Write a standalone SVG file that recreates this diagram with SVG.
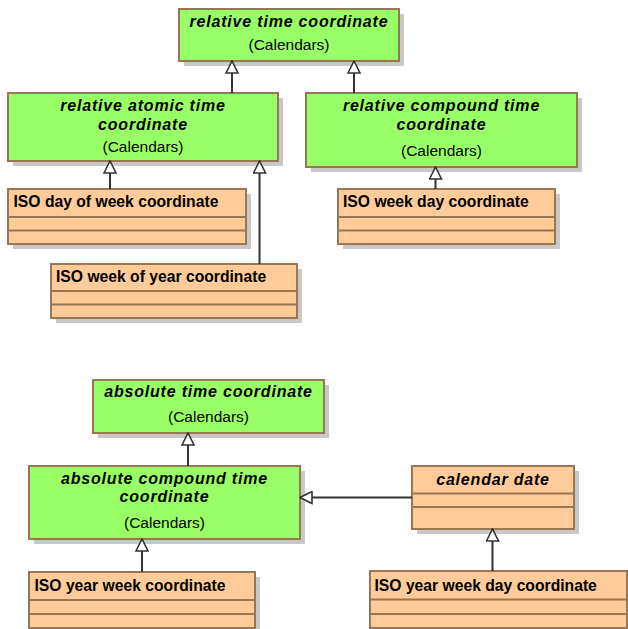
<svg xmlns="http://www.w3.org/2000/svg" width="628" height="629" viewBox="0 0 628 629">
<defs>
<style>
.sh{fill:#c8c8c8}
.g{fill:#99ff66;stroke:#997755;stroke-width:2}
.o{fill:#ffcc99;stroke:#997755;stroke-width:2}
.cl{stroke:#997755;stroke-width:2}
.t{font-family:"Liberation Sans",Arial,sans-serif;font-weight:bold;font-style:italic;font-size:16px;letter-spacing:0.8px;text-anchor:middle;fill:#000}
.p{font-family:"Liberation Sans",Arial,sans-serif;font-size:15.5px;text-anchor:middle;fill:#000}
.n{font-family:"Liberation Sans",Arial,sans-serif;font-weight:bold;font-size:15.7px;fill:#000}
.ln{stroke:#333;stroke-width:2;fill:none}
</style>
<marker id="tri" markerWidth="14" markerHeight="14" viewBox="0 0 14 14" refX="13" refY="7" orient="auto" markerUnits="userSpaceOnUse">
<path d="M1,1 L13,7 L1,13 Z" fill="#fff" stroke="#333" stroke-width="1.6"/>
</marker>
</defs>
<rect width="628" height="629" fill="#fff"/>

<g id="relative-time-coordinate">
<rect class="sh" x="184" y="14" width="220" height="52"/>
<rect class="g" x="179" y="9" width="220" height="52"/>
<text class="t" x="289" y="27">relative time coordinate</text>
<text class="p" x="289" y="50">(Calendars)</text>
</g>

<g id="relative-atomic-time-coordinate">
<rect class="sh" x="13" y="98" width="270" height="68"/>
<rect class="g" x="8" y="93" width="270" height="68"/>
<text class="t" x="143" y="111">relative atomic time</text>
<text class="t" x="143" y="129.5">coordinate</text>
<text class="p" x="143" y="151.5">(Calendars)</text>
</g>

<g id="relative-compound-time-coordinate">
<rect class="sh" x="311" y="98" width="271" height="74"/>
<rect class="g" x="306" y="93" width="271" height="74"/>
<text class="t" x="441.5" y="111">relative compound time</text>
<text class="t" x="441.5" y="129.5">coordinate</text>
<text class="p" x="441.5" y="156">(Calendars)</text>
</g>

<g id="iso-day-of-week-coordinate">
<rect class="sh" x="13" y="194" width="238" height="55"/>
<rect class="o" x="8" y="189" width="238" height="55"/>
<line class="cl" x1="8" y1="217" x2="246" y2="217"/>
<line class="cl" x1="8" y1="230.5" x2="246" y2="230.5"/>
<text class="n" x="13.5" y="207">ISO day of week coordinate</text>
</g>

<g id="iso-week-of-year-coordinate">
<rect class="sh" x="56" y="269" width="246" height="54"/>
<rect class="o" x="51" y="264" width="246" height="54"/>
<line class="cl" x1="51" y1="291" x2="297" y2="291"/>
<line class="cl" x1="51" y1="304.5" x2="297" y2="304.5"/>
<text class="n" x="56" y="282">ISO week of year coordinate</text>
</g>

<g id="iso-week-day-coordinate">
<rect class="sh" x="343" y="194" width="217" height="55"/>
<rect class="o" x="338" y="189" width="217" height="55"/>
<line class="cl" x1="338" y1="217" x2="555" y2="217"/>
<line class="cl" x1="338" y1="230.5" x2="555" y2="230.5"/>
<text class="n" x="343" y="207">ISO week day coordinate</text>
</g>

<g id="absolute-time-coordinate">
<rect class="sh" x="98" y="385" width="231" height="53"/>
<rect class="g" x="93" y="380" width="231" height="53"/>
<text class="t" x="208.5" y="397">absolute time coordinate</text>
<text class="p" x="208.5" y="422">(Calendars)</text>
</g>

<g id="absolute-compound-time-coordinate">
<rect class="sh" x="34" y="471" width="271" height="73"/>
<rect class="g" x="29" y="466" width="271" height="73"/>
<text class="t" x="164.5" y="484">absolute compound time</text>
<text class="t" x="164.5" y="502">coordinate</text>
<text class="p" x="164.5" y="528">(Calendars)</text>
</g>

<g id="calendar-date">
<rect class="sh" x="417" y="471" width="162" height="63"/>
<rect class="o" x="412" y="466" width="162" height="63"/>
<line class="cl" x1="412" y1="493.5" x2="574" y2="493.5"/>
<line class="cl" x1="412" y1="507" x2="574" y2="507"/>
<text class="t" x="493" y="484.5">calendar date</text>
</g>

<g id="iso-year-week-coordinate">
<rect class="sh" x="34" y="577" width="226" height="56"/>
<rect class="o" x="29" y="572" width="226" height="56"/>
<line class="cl" x1="29" y1="600" x2="255" y2="600"/>
<line class="cl" x1="29" y1="614" x2="255" y2="614"/>
<text class="n" x="34.5" y="590.5">ISO year week coordinate</text>
</g>

<g id="iso-year-week-day-coordinate">
<rect class="sh" x="375" y="576" width="257" height="57"/>
<rect class="o" x="370" y="571" width="257" height="57"/>
<line class="cl" x1="370" y1="599.5" x2="627" y2="599.5"/>
<line class="cl" x1="370" y1="614" x2="627" y2="614"/>
<text class="n" x="374.5" y="590.5">ISO year week day coordinate</text>
</g>

<g id="connectors">
<line class="ln" x1="232" y1="93" x2="232" y2="61" marker-end="url(#tri)"/>
<line class="ln" x1="354" y1="93" x2="354" y2="61" marker-end="url(#tri)"/>
<line class="ln" x1="110" y1="189" x2="110" y2="161" marker-end="url(#tri)"/>
<line class="ln" x1="259.5" y1="264" x2="259.5" y2="161" marker-end="url(#tri)"/>
<line class="ln" x1="435.5" y1="189" x2="435.5" y2="167" marker-end="url(#tri)"/>
<line class="ln" x1="188" y1="466" x2="188" y2="433" marker-end="url(#tri)"/>
<line class="ln" x1="142" y1="572" x2="142" y2="539" marker-end="url(#tri)"/>
<line class="ln" x1="412" y1="497.5" x2="300" y2="497.5" marker-end="url(#tri)"/>
<line class="ln" x1="492.5" y1="571" x2="492.5" y2="529" marker-end="url(#tri)"/>
</g>
</svg>
